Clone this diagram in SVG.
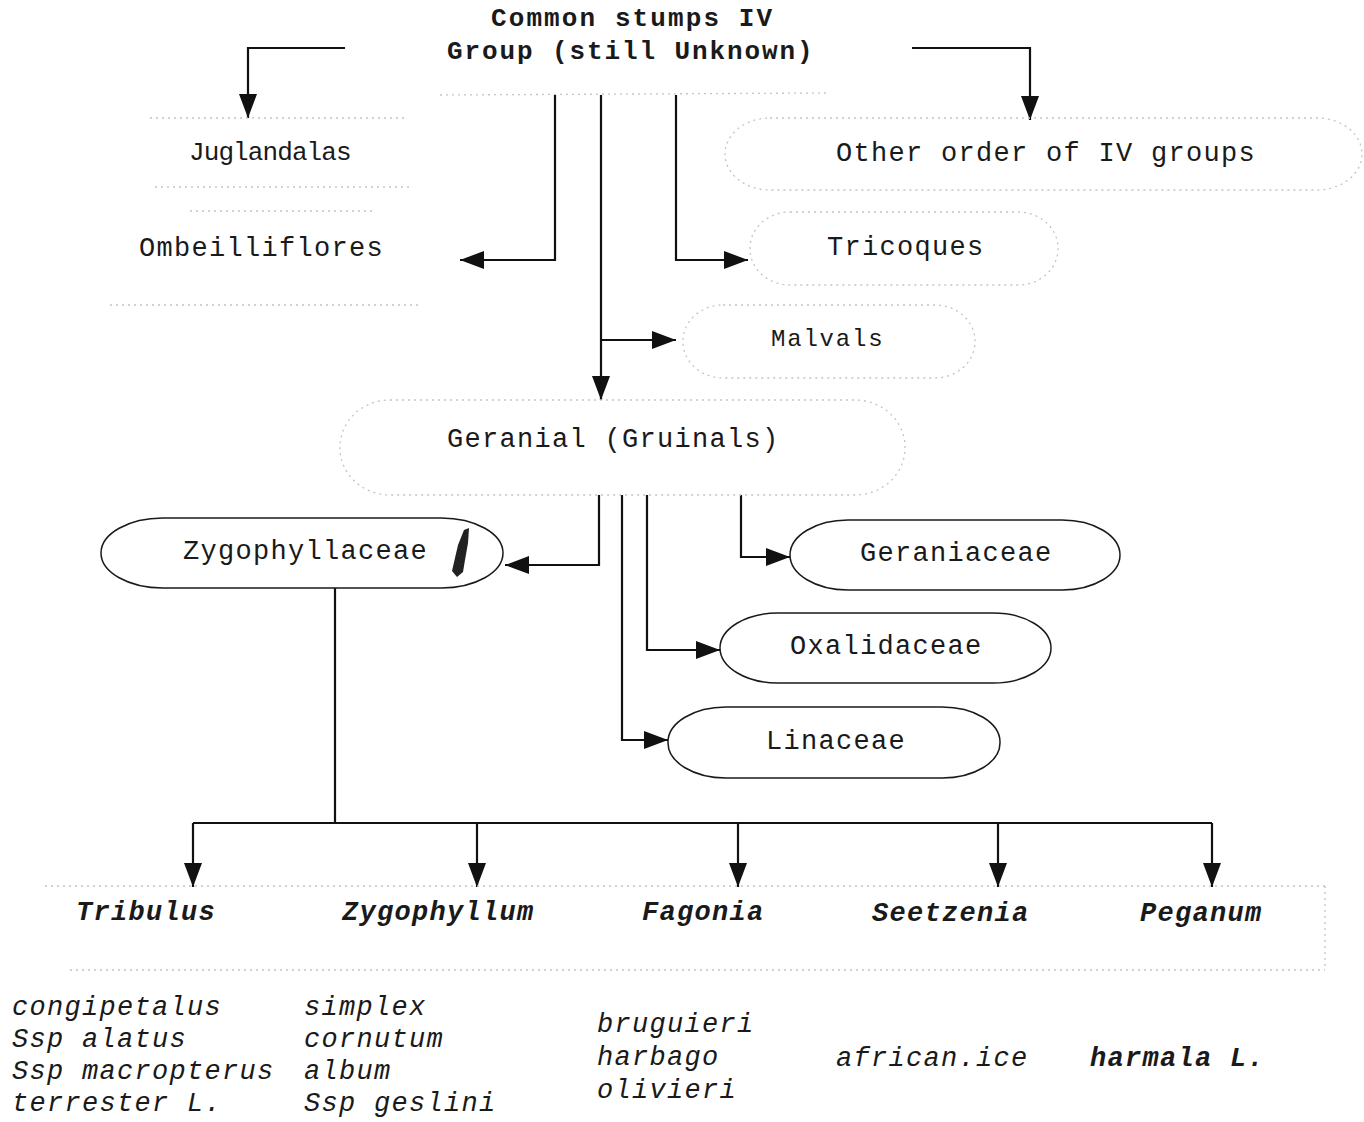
<svg xmlns="http://www.w3.org/2000/svg" width="1364" height="1122" viewBox="0 0 1364 1122">
<style>
.t{font-family:"Liberation Mono","Courier New",monospace;font-size:27px;letter-spacing:1.3px;fill:#1a1a1a}
.b{font-weight:bold}
.i{font-style:italic}
.faint{fill:none;stroke:#c4c4c4;stroke-width:1.3;stroke-dasharray:2 4}
.solid{fill:#fff;stroke:#1a1a1a;stroke-width:1.5}
.c{fill:none;stroke:#111;stroke-width:2.2}
</style>
<defs>
<marker id="ah" markerUnits="userSpaceOnUse" markerWidth="26" markerHeight="20" refX="24" refY="10" orient="auto">
<path d="M0,1 L24,10 L0,19 z" fill="#111"/>
</marker>
</defs>
<rect width="1364" height="1122" fill="#fff"/>

<g id="connectors">
<polyline class="c" points="345,48 248,48 248,118" marker-end="url(#ah)"/>
<polyline class="c" points="912,48 1030,48 1030,120" marker-end="url(#ah)"/>
<polyline class="c" points="555,95 555,260 460,260" marker-end="url(#ah)"/>
<polyline class="c" points="676,95 676,260 748,260" marker-end="url(#ah)"/>
<polyline class="c" points="601,95 601,400" marker-end="url(#ah)"/>
<polyline class="c" points="601,340 676,340" marker-end="url(#ah)"/>
<polyline class="c" points="599,495 599,565 505,565" marker-end="url(#ah)"/>
<polyline class="c" points="741,495 741,557 790,557" marker-end="url(#ah)"/>
<polyline class="c" points="647,495 647,650 720,650" marker-end="url(#ah)"/>
<polyline class="c" points="622,495 622,740 668,740" marker-end="url(#ah)"/>
<polyline class="c" points="335,588 335,823"/>
<polyline class="c" points="193,823 1212,823"/>
<polyline class="c" points="193,823 193,887" marker-end="url(#ah)"/>
<polyline class="c" points="477,823 477,887" marker-end="url(#ah)"/>
<polyline class="c" points="738,823 738,887" marker-end="url(#ah)"/>
<polyline class="c" points="998,823 998,887" marker-end="url(#ah)"/>
<polyline class="c" points="1212,823 1212,887" marker-end="url(#ah)"/>
</g>

<g id="n-root">
<text class="t b" x="491" y="26" style="font-size:26px;letter-spacing:2.1px">Common stumps IV</text>
<text class="t b" x="447" y="59" style="font-size:26px;letter-spacing:1.9px">Group (still Unknown)</text>
<line class="faint" x1="440" y1="95" x2="830" y2="93"/>
</g>

<g id="n-juglandalas">
<line class="faint" x1="150" y1="118" x2="405" y2="118"/>
<line class="faint" x1="155" y1="187" x2="410" y2="187"/>
<text class="t" x="189" y="160" style="font-size:26px;letter-spacing:-0.9px">Juglandalas</text>
</g>

<g id="n-ombeilliflores">
<line class="faint" x1="190" y1="211" x2="375" y2="211"/>
<line class="faint" x1="110" y1="305" x2="420" y2="305"/>
<text class="t" x="139" y="256">Ombeilliflores</text>
</g>

<g id="n-other">
<rect class="faint" x="725" y="118" width="637" height="72" rx="45" ry="36"/>
<text class="t" x="836" y="161">Other order of IV groups</text>
</g>

<g id="n-tricoques">
<rect class="faint" x="750" y="212" width="308" height="73" rx="40" ry="36"/>
<text class="t" x="827" y="255">Tricoques</text>
</g>

<g id="n-malvals">
<rect class="faint" x="683" y="305" width="292" height="73" rx="40" ry="36"/>
<text class="t" x="771" y="346" style="font-size:24px;letter-spacing:1.8px">Malvals</text>
</g>

<g id="n-geranial">
<rect class="faint" x="340" y="400" width="565" height="95" rx="50" ry="47"/>
<text class="t" x="447" y="447">Geranial (Gruinals)</text>
</g>

<g id="n-zygophyllaceae">
<rect class="solid" x="101" y="518" width="402" height="70" rx="62" ry="35"/>
<text class="t" x="183" y="559">Zygophyllaceae</text>
<path d="M464,530 L469,528 L468,543 L465,560 L463,572 L457,577 L452,571 L455,558 L458,545 z" fill="#222"/>
</g>

<g id="n-geraniaceae">
<rect class="solid" x="790" y="520" width="330" height="70" rx="58" ry="35"/>
<text class="t" x="860" y="561">Geraniaceae</text>
</g>

<g id="n-oxalidaceae">
<rect class="solid" x="720" y="613" width="331" height="70" rx="58" ry="35"/>
<text class="t" x="790" y="654">Oxalidaceae</text>
</g>

<g id="n-linaceae">
<rect class="solid" x="668" y="707" width="332" height="71" rx="58" ry="35"/>
<text class="t" x="766" y="749">Linaceae</text>
</g>

<g id="genus-band">
<line class="faint" x1="45" y1="886" x2="1325" y2="886"/>
<line class="faint" x1="70" y1="970" x2="1325" y2="970"/>
<line class="faint" x1="1325" y1="886" x2="1325" y2="970"/>
</g>

<g id="n-tribulus">
<text class="t b i" x="76" y="920">Tribulus</text>
<text class="t i" x="12" y="1015">congipetalus</text>
<text class="t i" x="12" y="1047">Ssp alatus</text>
<text class="t i" x="12" y="1079">Ssp macropterus</text>
<text class="t i" x="12" y="1111">terrester L.</text>
</g>

<g id="n-zygophyllum">
<text class="t b i" x="342" y="920">Zygophyllum</text>
<text class="t i" x="304" y="1015">simplex</text>
<text class="t i" x="304" y="1047">cornutum</text>
<text class="t i" x="304" y="1079">album</text>
<text class="t i" x="304" y="1111">Ssp geslini</text>
</g>

<g id="n-fagonia">
<text class="t b i" x="642" y="920">Fagonia</text>
<text class="t i" x="597" y="1032">bruguieri</text>
<text class="t i" x="597" y="1065">harbago</text>
<text class="t i" x="597" y="1098">olivieri</text>
</g>

<g id="n-seetzenia">
<text class="t b i" x="872" y="921">Seetzenia</text>
<text class="t i" x="836" y="1066">african.ice</text>
</g>

<g id="n-peganum">
<text class="t b i" x="1140" y="921">Peganum</text>
<text class="t b i" x="1090" y="1066">harmala L.</text>
</g>
</svg>
